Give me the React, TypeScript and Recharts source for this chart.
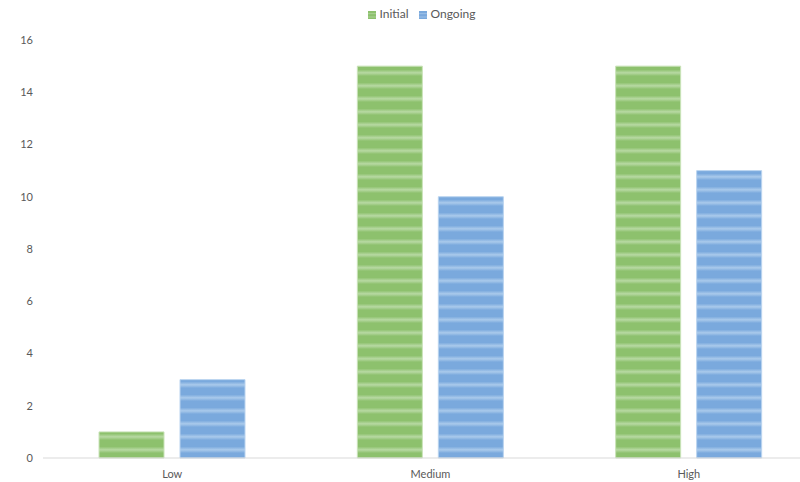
import React from 'react';
import { BarChart, Bar, XAxis, YAxis, Legend } from 'recharts';

const categories = ['Low', 'Medium', 'High'];
const initialValues = [1, 15, 15];
const ongoingValues = [3, 10, 11];
const yTicks = [0, 2, 4, 6, 8, 10, 12, 14, 16];

const data = categories.map((name, i) => ({
  name,
  Initial: initialValues[i],
  Ongoing: ongoingValues[i],
}));

const tickStyle = { fill: '#595959', fontSize: 11, fontFamily: 'Lato, sans-serif' };

export default function App() {
  return (
    <div style={{ position: 'fixed', left: 0, top: 0, width: 800, height: 482, overflow: 'hidden', background: '#fff' }}>
      <BarChart
        width={818}
        height={482}
        data={data}
        margin={{ top: 25, right: 0, bottom: 0, left: 0 }}
        barSize={65}
        barGap={16}
      >
        <defs>
          {/* soft horizontal stripes, ~13px period */}
          <linearGradient id="gBand" x1="0" y1="0" x2="0" y2="1">
            <stop offset="0" stopColor="#8dc16d" />
            <stop offset="0.35" stopColor="#8dc16d" />
            <stop offset="0.6" stopColor="#b8d9a3" />
            <stop offset="0.85" stopColor="#8dc16d" />
            <stop offset="1" stopColor="#8dc16d" />
          </linearGradient>
          <linearGradient id="bBand" x1="0" y1="0" x2="0" y2="1">
            <stop offset="0" stopColor="#7aa9dd" />
            <stop offset="0.35" stopColor="#7aa9dd" />
            <stop offset="0.6" stopColor="#aacaeb" />
            <stop offset="0.85" stopColor="#7aa9dd" />
            <stop offset="1" stopColor="#7aa9dd" />
          </linearGradient>
          <pattern id="stripeGreen" width="8" height="13" patternUnits="userSpaceOnUse">
            <rect width="8" height="13" fill="url(#gBand)" />
          </pattern>
          <pattern id="stripeBlue" width="8" height="13" patternUnits="userSpaceOnUse">
            <rect width="8" height="13" fill="url(#bBand)" />
          </pattern>
        </defs>
        <Legend
          verticalAlign="top"
          iconType="square"
          iconSize={8}
          wrapperStyle={{ left: 0, width: 853, top: 6, fontFamily: 'Lato, sans-serif', fontSize: 12 }}
          formatter={(v) => <span style={{ color: '#595959' }}>{v}</span>}
        />
        <XAxis
          dataKey="name"
          tickLine={false}
          tickSize={0}
          tickMargin={12}
          axisLine={{ stroke: '#d9d9d9' }}
          tick={tickStyle}
          height={24}
        />
        <YAxis
          width={43}
          domain={[0, 16]}
          ticks={yTicks}
          axisLine={false}
          tickLine={false}
          tickSize={0}
          tickMargin={10}
          tick={tickStyle}
        />
        <Bar dataKey="Initial" fill="url(#stripeGreen)" stroke="#c9e3b8" strokeWidth={1} legendType="square" isAnimationActive={false} />
        <Bar dataKey="Ongoing" fill="url(#stripeBlue)" stroke="#b9d3ef" strokeWidth={1} legendType="square" isAnimationActive={false} />
      </BarChart>
    </div>
  );
}
